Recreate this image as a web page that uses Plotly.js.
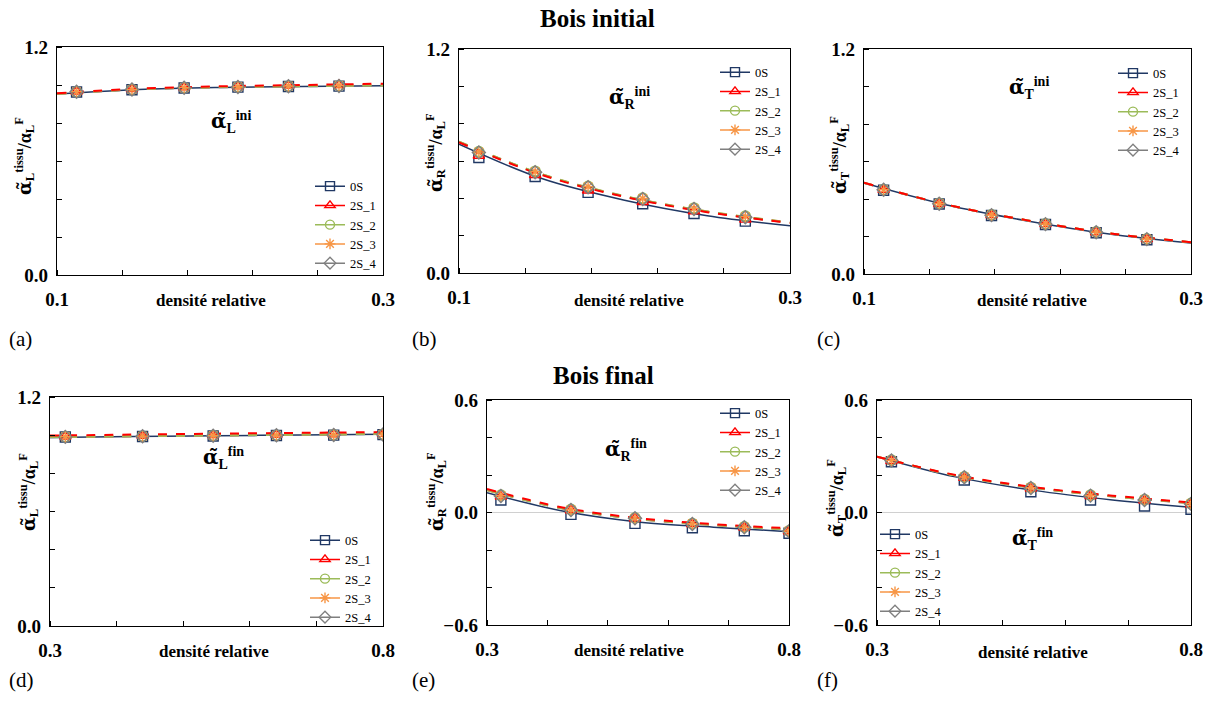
<!DOCTYPE html>
<html>
<head>
<meta charset="utf-8">
<script src="https://cdn.plot.ly/plotly-3.0.1.min.js"></script>
<style>html,body{margin:0;padding:0;background:#fff;}#chart{width:1207px;height:704px;}</style>
</head>
<body>
<div id="chart"></div>
<script>
// ---------------- DATA ----------------
const seriesNames = ['0S', '2S_1', '2S_2', '2S_3', '2S_4'];

// relative density of the simulated points
const xIni = [0.112, 0.146, 0.178, 0.211, 0.242, 0.273];
const xFin = [0.323, 0.439, 0.545, 0.640, 0.726, 0.800];

// abscissae of the trend curves
const fitXIni = [0.10, 0.15, 0.20, 0.25, 0.30];
const fitXFin = [0.300, 0.425, 0.550, 0.675, 0.800];

// points (rows: 0S, 2S_1, 2S_2, 2S_3, 2S_4)
const ptsLini = [
  [0.963, 0.975, 0.984, 0.989, 0.992, 0.994],
  [0.966, 0.979, 0.988, 0.993, 0.997, 1.000],
  [0.965, 0.977, 0.986, 0.991, 0.994, 0.996],
  [0.965, 0.977, 0.986, 0.991, 0.995, 0.997],
  [0.964, 0.976, 0.985, 0.990, 0.993, 0.995]
];
const ptsRini = [
  [0.619, 0.517, 0.432, 0.371, 0.319, 0.278],
  [0.628, 0.525, 0.442, 0.380, 0.330, 0.286],
  [0.651, 0.546, 0.465, 0.402, 0.349, 0.305],
  [0.648, 0.543, 0.462, 0.399, 0.346, 0.302],
  [0.645, 0.540, 0.459, 0.396, 0.343, 0.299]
];
const ptsTini = [
  [0.447, 0.373, 0.312, 0.264, 0.220, 0.183],
  [0.449, 0.375, 0.314, 0.266, 0.223, 0.186],
  [0.451, 0.377, 0.316, 0.268, 0.225, 0.188],
  [0.450, 0.376, 0.315, 0.267, 0.224, 0.187],
  [0.449, 0.375, 0.314, 0.266, 0.223, 0.186]
];
const ptsLfin = [
  [0.990, 0.993, 0.996, 0.998, 1.000, 1.003],
  [0.993, 0.997, 1.000, 1.002, 1.004, 1.007],
  [0.992, 0.995, 0.998, 1.000, 1.002, 1.005],
  [0.992, 0.995, 0.998, 1.000, 1.002, 1.005],
  [0.991, 0.994, 0.997, 0.999, 1.001, 1.004]
];
const ptsRfin = [
  [0.067, -0.010, -0.058, -0.081, -0.097, -0.111],
  [0.085, 0.012, -0.032, -0.062, -0.080, -0.100],
  [0.093, 0.017, -0.028, -0.058, -0.076, -0.097],
  [0.090, 0.015, -0.030, -0.060, -0.078, -0.099],
  [0.088, 0.013, -0.031, -0.061, -0.079, -0.100]
];
const ptsTfin = [
  [0.271, 0.173, 0.111, 0.067, 0.035, 0.017],
  [0.275, 0.185, 0.128, 0.088, 0.064, 0.044],
  [0.280, 0.191, 0.134, 0.093, 0.070, 0.049],
  [0.278, 0.189, 0.132, 0.091, 0.068, 0.047],
  [0.277, 0.188, 0.131, 0.090, 0.067, 0.046]
];

// trend curves (rows: 0S, 2S_1, 2S_2, 2S_3, 2S_4)
const fitLini = [
  [0.952, 0.976, 0.987, 0.992, 0.996],
  [0.956, 0.981, 0.993, 1.000, 1.007],
  [0.954, 0.978, 0.989, 0.994, 0.998],
  [0.954, 0.978, 0.989, 0.995, 0.999],
  [0.953, 0.977, 0.988, 0.993, 0.997]
];
const fitRini = [
  [0.690, 0.506, 0.390, 0.307, 0.253],
  [0.700, 0.525, 0.408, 0.326, 0.268],
  [0.704, 0.530, 0.412, 0.330, 0.271],
  [0.703, 0.529, 0.411, 0.329, 0.270],
  [0.702, 0.528, 0.410, 0.328, 0.269]
];
const fitTini = [
  [0.485, 0.369, 0.283, 0.213, 0.165],
  [0.487, 0.371, 0.286, 0.217, 0.170],
  [0.487, 0.371, 0.286, 0.217, 0.170],
  [0.487, 0.371, 0.286, 0.217, 0.169],
  [0.486, 0.370, 0.285, 0.216, 0.168]
];
const fitLfin = [
  [0.988, 0.993, 0.997, 1.001, 1.005],
  [0.998, 1.003, 1.008, 1.012, 1.016],
  [0.990, 0.995, 0.999, 1.003, 1.007],
  [0.990, 0.995, 0.999, 1.003, 1.007],
  [0.989, 0.994, 0.998, 1.002, 1.006]
];
const fitRfin = [
  [0.106, 0.008, -0.050, -0.078, -0.102],
  [0.125, 0.027, -0.030, -0.062, -0.084],
  [0.120, 0.022, -0.034, -0.066, -0.090],
  [0.120, 0.022, -0.034, -0.066, -0.090],
  [0.119, 0.021, -0.035, -0.067, -0.091]
];
const fitTfin = [
  [0.298, 0.190, 0.118, 0.067, 0.028],
  [0.298, 0.200, 0.135, 0.090, 0.054],
  [0.298, 0.198, 0.132, 0.087, 0.050],
  [0.298, 0.198, 0.132, 0.087, 0.050],
  [0.297, 0.197, 0.131, 0.086, 0.049]
];

// axis ticks
const xTicksIni = [0.1, 0.3];
const xTicksFin = [0.3, 0.8];
const yTicksPos = [0.0, 1.2];
const yTicksSym = [-0.6, 0.0, 0.6];

// texts
const xTitle = 'densité relative';
const groupTitles = ['Bois initial', 'Bois final'];
const panelLetters = ['(a)', '(b)', '(c)', '(d)', '(e)', '(f)'];
const dirs = ['L', 'R', 'T', 'L', 'R', 'T'];
const states = ['ini', 'ini', 'ini', 'fin', 'fin', 'fin'];

// ---------------- STYLE ----------------
const W = 1207, H = 704;
const FONT = 'Liberation Serif';
const TILDE_FONT = 'DejaVu Serif';
const colors = ['#203864', '#FF0000', '#9BBB59', '#F79646', '#7F7F7F'];
const symbols = ['square-open', 'triangle-up-open', 'circle-open', 'asterisk-open', 'diamond-open'];
const dashes = ['solid', 'dash', 'dash', 'dash', 'dash'];

const alphaTilde = '<span style="font-family:' + TILDE_FONT + '">α̃</span>';

// pixel boxes of the six plot areas [left, right, top, bottom]
const boxes = [
  [57, 383, 47, 275], [459, 790, 49, 273], [864, 1191, 49, 274],
  [50, 383, 397, 626], [487, 789, 400, 625], [877, 1191, 400, 625]
];
const yTitlePos = [[25, 156], [436, 153], [839, 155], [28, 492], [436, 492], [836, 498]];
const xTitlePos = [[211, 300], [629, 300], [1032, 300], [214, 651], [629, 650], [1033, 652]];
const innerLabel = [[0.207, 0.805], [0.203, 0.94], [0.201, 0.99], [0.56, 0.88], [0.53, 0.333], [0.548, -0.141]];
const legendPos = [[310, 171.5], [715, 57.5], [1113, 58.5], [305, 525.5], [715, 398.5], [875, 519.5]];
const letterPos = [[7, 339], [410, 339], [815, 339], [7, 680], [410, 680], [815, 680]];

const panels = [
  {x: xIni, pts: ptsLini, fx: fitXIni, fit: fitLini, xt: xTicksIni, yt: yTicksPos},
  {x: xIni, pts: ptsRini, fx: fitXIni, fit: fitRini, xt: xTicksIni, yt: yTicksPos},
  {x: xIni, pts: ptsTini, fx: fitXIni, fit: fitTini, xt: xTicksIni, yt: yTicksPos},
  {x: xFin, pts: ptsLfin, fx: fitXFin, fit: fitLfin, xt: xTicksFin, yt: yTicksPos},
  {x: xFin, pts: ptsRfin, fx: fitXFin, fit: fitRfin, xt: xTicksFin, yt: yTicksSym},
  {x: xFin, pts: ptsTfin, fx: fitXFin, fit: fitTfin, xt: xTicksFin, yt: yTicksSym}
];

const traces = [];
const layout = {
  width: W, height: H,
  margin: {l: 0, r: 0, t: 0, b: 0},
  paper_bgcolor: '#fff', plot_bgcolor: '#fff',
  font: {family: FONT, color: '#000'},
  showlegend: true,
  annotations: []
};

panels.forEach((p, i) => {
  const n = i + 1;
  const xa = 'x' + (n === 1 ? '' : n), ya = 'y' + (n === 1 ? '' : n);
  const lg = 'legend' + (n === 1 ? '' : n);
  const b = boxes[i];
  const xr = [p.xt[0], p.xt[p.xt.length - 1]];
  const yr = [p.yt[0], p.yt[p.yt.length - 1]];

  // trend curves: 0S first, then 2S_4 ... 2S_1
  [0, 4, 3, 2, 1].forEach(s => {
    traces.push({
      type: 'scatter', mode: 'lines', x: p.fx, y: p.fit[s], xaxis: xa, yaxis: ya,
      line: {color: colors[s], width: s === 0 ? 1.5 : 2, dash: dashes[s], shape: 'spline'},
      showlegend: false, hoverinfo: 'skip'
    });
  });
  // markers
  [0, 1, 2, 3, 4].forEach(s => {
    traces.push({
      type: 'scatter', mode: 'markers', x: p.x, y: p.pts[s], xaxis: xa, yaxis: ya,
      marker: {symbol: symbols[s], size: 10, color: colors[s], line: {color: colors[s], width: 1.4}},
      showlegend: false
    });
  });
  // legend entries
  [0, 1, 2, 3, 4].forEach(s => {
    traces.push({
      type: 'scatter', mode: 'lines+markers', x: [null], y: [null], xaxis: xa, yaxis: ya,
      name: seriesNames[s], legend: lg,
      line: {color: colors[s], width: 1.5},
      marker: {symbol: symbols[s], size: 9, color: colors[s], line: {color: colors[s], width: 1.4}}
    });
  });

  const tickFont = {family: FONT, size: 19, weight: 'bold', color: '#000'};
  layout['xaxis' + (n === 1 ? '' : n)] = {
    domain: [b[0] / W, b[1] / W], anchor: ya, range: xr,
    tickmode: 'array', tickvals: p.xt, tickformat: '.1f', ticks: '',
    tickfont: tickFont, ticklabelstandoff: 7,
    minor: {dtick: (xr[1] - xr[0]) / 5, tick0: xr[0], ticks: 'inside', ticklen: 5, tickcolor: '#000', tickwidth: 1, showgrid: false},
    showline: true, mirror: true, linecolor: '#000', linewidth: 1.3,
    showgrid: false, zeroline: false, fixedrange: true
  };
  layout['yaxis' + (n === 1 ? '' : n)] = {
    domain: [1 - b[3] / H, 1 - b[2] / H], anchor: xa, range: yr,
    tickmode: 'array', tickvals: p.yt, tickformat: '.1f', ticks: '',
    tickfont: tickFont, ticklabelstandoff: 4,
    minor: {dtick: 0.2, tick0: yr[0], ticks: 'inside', ticklen: 5, tickcolor: '#000', tickwidth: 1, showgrid: false},
    showline: true, mirror: true, linecolor: '#000', linewidth: 1.3,
    showgrid: false, zeroline: yr[0] < 0, zerolinecolor: '#D0D0D0', zerolinewidth: 1, fixedrange: true
  };
  layout[lg] = {
    x: legendPos[i][0] / W, y: 1 - legendPos[i][1] / H, xanchor: 'left', yanchor: 'top',
    bgcolor: 'rgba(0,0,0,0)', borderwidth: 0,
    font: {family: FONT, size: 12.5, color: '#000'},
    itemwidth: 30, tracegroupgap: 0
  };

  // y title
  layout.annotations.push({
    xref: 'paper', yref: 'paper', x: yTitlePos[i][0] / W, y: 1 - yTitlePos[i][1] / H,
    xanchor: 'center', yanchor: 'middle', textangle: -90, showarrow: false,
    text: alphaTilde + '<sub>' + dirs[i] + '</sub><sup>tissu</sup>/α<sub>L</sub><sup>F</sup>',
    font: {family: FONT, size: 18, weight: 'bold', color: '#000'}
  });
  // x title
  layout.annotations.push({
    xref: 'paper', yref: 'paper', x: xTitlePos[i][0] / W, y: 1 - xTitlePos[i][1] / H,
    xanchor: 'center', yanchor: 'middle', showarrow: false, text: xTitle,
    font: {family: FONT, size: 17, weight: 'bold', color: '#000'}
  });
  // inner label
  layout.annotations.push({
    xref: xa, yref: ya, x: innerLabel[i][0], y: innerLabel[i][1],
    xanchor: 'center', yanchor: 'middle', showarrow: false,
    text: alphaTilde + '<sub>' + dirs[i] + '</sub><sup>' + states[i] + '</sup>',
    font: {family: FONT, size: 20, weight: 'bold', color: '#000'}
  });
  // panel letter
  layout.annotations.push({
    xref: 'paper', yref: 'paper', x: letterPos[i][0] / W, y: 1 - letterPos[i][1] / H,
    xanchor: 'left', yanchor: 'middle', showarrow: false, text: panelLetters[i],
    font: {family: FONT, size: 21, color: '#000'}
  });
});

// group titles
layout.annotations.push({
  xref: 'paper', yref: 'paper', x: 597 / W, y: 1 - 19 / H, xanchor: 'center', yanchor: 'middle',
  showarrow: false, text: groupTitles[0], font: {family: FONT, size: 25, weight: 'bold', color: '#000'}
});
layout.annotations.push({
  xref: 'paper', yref: 'paper', x: 603 / W, y: 1 - 375 / H, xanchor: 'center', yanchor: 'middle',
  showarrow: false, text: groupTitles[1], font: {family: FONT, size: 25, weight: 'bold', color: '#000'}
});

Plotly.newPlot('chart', traces, layout, {staticPlot: true, displayModeBar: false});
</script>
</body>
</html>
